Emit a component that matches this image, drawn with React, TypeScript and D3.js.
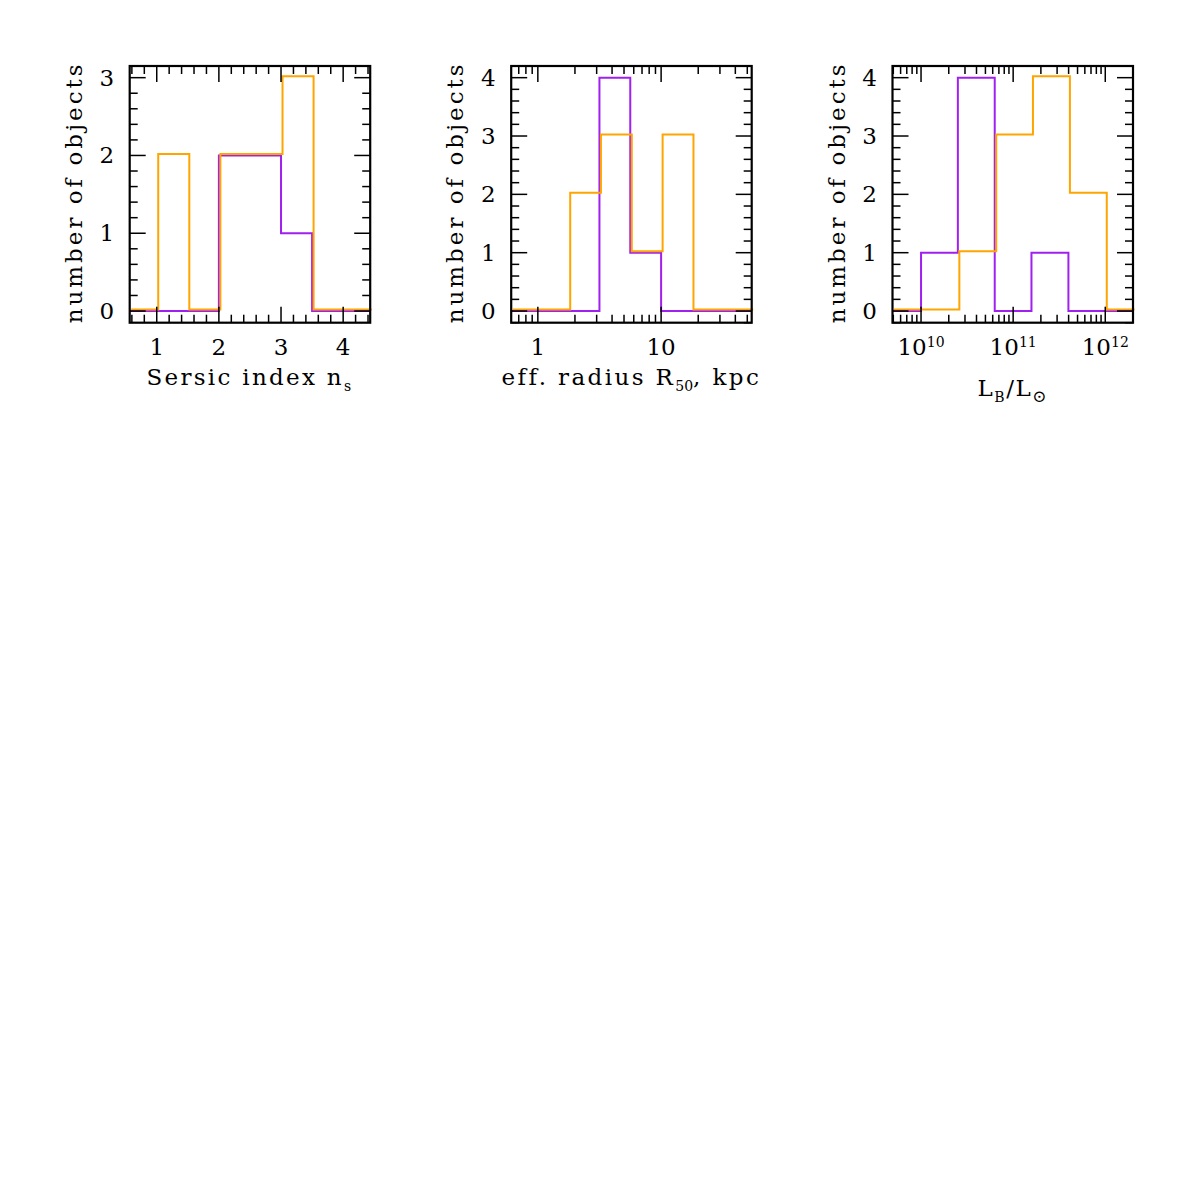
import { useRef, useEffect } from "react";
import * as d3 from "d3";

// histogram bin edges and counts
const sersicEdges = [1, 1.5, 2, 2.5, 3, 3.5];
const sersicOrange = [2, 0, 2, 2, 3];
const sersicPurple = [0, 0, 2, 2, 1];

const radiusEdges = [1.78, 3.16, 5.62, 10, 17.8];
const radiusOrange = [2, 3, 1, 3];
const radiusPurple = [0, 4, 1, 0];

const lumEdges = [1e10, 2.51e10, 6.31e10, 1.58e11, 3.98e11, 1e12];
const lumOrange = [0, 1, 3, 4, 2];
const lumPurple = [1, 4, 0, 1, 0];

const sersicTicks = ["1", "2", "3", "4"];
const radiusTicks = ["1", "10"];
const lumTicks = ["10", "11", "12"];

const ORANGE = "#ffa500";
const PURPLE = "#a020f0";
const FONT = "'DejaVu Serif', serif";

const TOP = 66;
const BOTTOM = 322.7;
const PW = 240.5;
const LEFTS = [129.7, 511.2, 892.5];

type Panel = {
  log: boolean;
  domain: [number, number];
  ymax: number;
  edges: number[];
  orange: number[];
  purple: number[];
  majors: number[];
  tickText: string[];
  sup: boolean;
};

const panels: Panel[] = [
  {
    log: false,
    domain: [0.565, 4.435],
    ymax: 3,
    edges: sersicEdges,
    orange: sersicOrange,
    purple: sersicPurple,
    majors: sersicTicks.map(Number),
    tickText: sersicTicks,
    sup: false,
  },
  {
    log: true,
    domain: [0.608, 54.3],
    ymax: 4,
    edges: radiusEdges,
    orange: radiusOrange,
    purple: radiusPurple,
    majors: radiusTicks.map(Number),
    tickText: radiusTicks,
    sup: false,
  },
  {
    log: true,
    domain: [4.9e9, 2.0e12],
    ymax: 4,
    edges: lumEdges,
    orange: lumOrange,
    purple: lumPurple,
    majors: lumTicks.map((e) => Math.pow(10, +e)),
    tickText: lumTicks,
    sup: true,
  },
];

export default function App() {
  const svgRef = useRef<SVGSVGElement>(null);

  useEffect(() => {
    const svg = d3.select(svgRef.current);
    if (!svg.node()) return;
    svg.selectAll("*").remove();
    const root = svg.append("g").attr("transform", "translate(-8,-8)");

    panels.forEach((p, i) => {
      const left = LEFTS[i];
      const right = left + PW;
      const x = p.log
        ? d3.scaleLog().domain(p.domain).range([left, right])
        : d3.scaleLinear().domain(p.domain).range([left, right]);
      const y = d3
        .scaleLinear()
        .domain([-0.05 * p.ymax, 1.05 * p.ymax])
        .range([BOTTOM, TOP]);
      const g = root.append("g");

      // histograms (purple first, orange on top, slightly offset as in the plot)
      const line = d3
        .line<[number, number]>()
        .x((d) => x(d[0]))
        .y((d) => y(d[1]))
        .curve(d3.curveStepAfter);
      const stepPts = (counts: number[]): [number, number][] => {
        const pts: [number, number][] = [[p.domain[0], 0]];
        counts.forEach((c, k) => pts.push([p.edges[k], c]));
        pts.push([p.edges[counts.length], 0]);
        pts.push([p.domain[1], 0]);
        return pts;
      };
      g.append("path")
        .attr("d", line(stepPts(p.purple)))
        .attr("fill", "none")
        .attr("stroke", PURPLE)
        .attr("stroke-width", 2);
      g.append("path")
        .attr("d", line(stepPts(p.orange)))
        .attr("transform", "translate(1.5,-1.5)")
        .attr("fill", "none")
        .attr("stroke", ORANGE)
        .attr("stroke-width", 2);

      // ticks
      const xt = p.log
        ? (x as d3.ScaleLogarithmic<number, number>).ticks()
        : d3.ticks(p.domain[0], p.domain[1], 20);
      const isMajorX = (v: number) =>
        p.majors.some((m) => Math.abs(m - v) / m < 1e-6);
      const ticks = g.append("g").attr("stroke", "#000").attr("stroke-width", 1.5);
      xt.forEach((v) => {
        const len = isMajorX(v) ? 16 : 8;
        const px = x(v);
        ticks.append("line").attr("x1", px).attr("x2", px).attr("y1", BOTTOM).attr("y2", BOTTOM - len);
        ticks.append("line").attr("x1", px).attr("x2", px).attr("y1", TOP).attr("y2", TOP + len);
      });
      const yt = d3.ticks(-0.05 * p.ymax, 1.05 * p.ymax, 20);
      yt.forEach((v) => {
        const major = Math.abs(v - Math.round(v)) < 1e-6;
        const len = major ? 16 : 8;
        const py = y(v);
        ticks.append("line").attr("y1", py).attr("y2", py).attr("x1", left).attr("x2", left + len);
        ticks.append("line").attr("y1", py).attr("y2", py).attr("x1", right).attr("x2", right - len);
      });

      // frame
      g.append("rect")
        .attr("x", left)
        .attr("y", TOP)
        .attr("width", PW)
        .attr("height", BOTTOM - TOP)
        .attr("fill", "none")
        .attr("stroke", "#000")
        .attr("stroke-width", 2.2);

      // y tick labels
      d3.range(0, p.ymax + 1).forEach((v) => {
        g.append("text")
          .attr("x", left - 23)
          .attr("y", y(v) + 8)
          .attr("text-anchor", "middle")
          .style("font-family", FONT)
          .style("font-size", "23px")
          .text(String(v));
      });

      // x tick labels
      p.majors.forEach((m, k) => {
        const t = g
          .append("text")
          .attr("x", x(m))
          .attr("y", 355)
          .attr("text-anchor", "middle")
          .style("font-family", FONT)
          .style("font-size", "23px");
        if (p.sup) {
          t.append("tspan").text("10");
          t.append("tspan")
            .attr("dy", -8)
            .style("font-size", "14px")
            .text(p.tickText[k]);
        } else {
          t.text(p.tickText[k]);
        }
      });

      // y axis title
      g.append("text")
        .attr("transform", `translate(${left - 48},${(TOP + BOTTOM) / 2 - 2}) rotate(-90)`)
        .attr("text-anchor", "middle")
        .style("font-family", FONT)
        .style("font-size", "23px")
        .style("letter-spacing", "3px")
        .text("number of objects");
    });

    // x axis titles
    const mid = (i: number) => LEFTS[i] + PW / 2;
    const t1 = root
      .append("text")
      .attr("x", mid(0))
      .attr("y", 385)
      .attr("text-anchor", "middle")
      .style("font-family", FONT)
      .style("font-size", "23px")
      .style("letter-spacing", "2.3px");
    t1.append("tspan").text("Sersic index n");
    t1.append("tspan").attr("dy", 6).style("font-size", "14px").text("s");

    const t2 = root
      .append("text")
      .attr("x", mid(1))
      .attr("y", 385)
      .attr("text-anchor", "middle")
      .style("font-family", FONT)
      .style("font-size", "23px")
      .style("letter-spacing", "2.4px");
    t2.append("tspan").text("eff. radius R");
    t2.append("tspan").attr("dy", 6).style("font-size", "14px").style("letter-spacing", "0px").text("50");
    t2.append("tspan").attr("dy", -6).text(", kpc");

    const t3 = root
      .append("text")
      .attr("x", mid(2))
      .attr("y", 396)
      .attr("text-anchor", "middle")
      .style("font-family", FONT)
      .style("font-size", "23px")
      .style("letter-spacing", "1.5px");
    t3.append("tspan").text("L");
    t3.append("tspan").attr("dy", 6).style("font-size", "14px").text("B");
    t3.append("tspan").attr("dy", -6).text("/L");
    t3.append("tspan").attr("dy", 6).style("font-size", "17px").text("⊙");
  }, []);

  return <svg ref={svgRef} width={1180} height={420} style={{ display: "block" }} />;
}
